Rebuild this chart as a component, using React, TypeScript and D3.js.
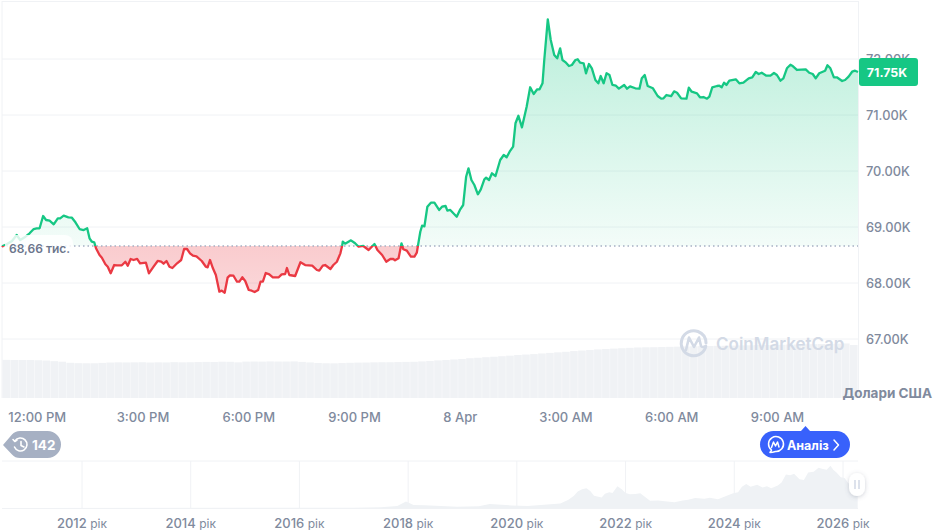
import * as d3 from 'd3';

// minutes from 12:00 PM
const minutes = [
  -60, -58, -52, -43, -35, -29, -20, -13, -6, -1, 4, 10, 15, 21, 28, 35, 39, 45, 53, 59, 65, 72, 79, 85, 89, 93, 97, 100,
  106, 110, 116, 120, 125, 131, 136, 144, 150, 154, 159, 164, 170, 175, 185, 190, 198, 205, 211, 215, 220, 225, 230, 238,
  245, 250, 255, 260, 265, 271, 280, 287, 290, 294, 299, 304, 310, 314, 319, 324, 328, 334, 340, 344, 349, 354, 360, 365,
  370, 376, 380, 384, 389, 395, 401, 411, 416, 422, 425, 429, 439, 448, 456, 468, 476, 480, 486, 490, 499, 504, 510, 516,
  519, 520, 524, 534, 541, 547, 555, 564, 574, 579, 587, 594, 601, 606, 609, 615, 620, 623, 629, 636, 642, 646, 652, 655,
  659, 664, 670, 676, 684, 689, 695, 698, 703, 714, 720, 725, 730, 734, 739, 744, 750, 755, 761, 764, 769, 774, 780, 788,
  794, 799, 804, 810, 814, 819, 825, 833, 839, 845, 851, 855, 860, 863, 869, 874, 880, 885, 890, 894, 900, 905, 910, 916,
  920, 924, 930, 934, 939, 944, 950, 955, 959, 964, 969, 974, 979, 985, 990, 999, 1004, 1009, 1018, 1025, 1029, 1034, 1039,
  1048, 1056, 1062, 1066, 1071, 1079, 1084, 1089, 1096, 1105, 1109, 1114, 1123, 1128, 1134, 1140, 1144, 1149, 1157, 1161,
  1165, 1169, 1173, 1178, 1189, 1195, 1202, 1211, 1217, 1223, 1228, 1233, 1241, 1248, 1254, 1259, 1265, 1270, 1276, 1282,
  1285, 1293, 1308, 1314, 1320, 1325, 1331, 1341, 1345, 1350, 1356, 1361, 1370, 1375, 1381, 1387, 1392, 1397
];

const prices = [
  68643, 68666, 68691, 68750, 68857, 68768, 68827, 68887, 68964, 68977, 68977, 69196, 69125, 69112, 69048, 69155, 69155, 69202, 69173, 69166, 69084, 68964, 68946, 68977, 68798, 68737, 68727, 68620,
  68500, 68452, 68334, 68291, 68173, 68321, 68316, 68316, 68380, 68309, 68429, 68411, 68429, 68352, 68362, 68173, 68291, 68393, 68380, 68345, 68393, 68291, 68268, 68352,
  68411, 68607, 68607, 68530, 68487, 68477, 68393, 68291, 68280, 68411, 68262, 68143, 67845, 67863, 67827, 68095, 68137, 68130, 68023, 68023, 68102, 68036, 67875, 67863,
  67839, 67875, 68023, 68023, 68179, 68155, 68102, 68102, 68155, 68161, 68268, 68143, 68125, 68370, 68321, 68309, 68232, 68220, 68309, 68321, 68250, 68321, 68380, 68530,
  68666, 68737, 68702, 68762, 68709, 68648, 68661, 68589, 68696, 68589, 68500, 68380, 68429, 68429, 68405, 68441, 68709, 68602, 68577, 68470, 68470, 68541, 68916, 69023,
  69012, 69362, 69434, 69434, 69304, 69362, 69375, 69291, 69304, 69184, 69316, 69393, 69898, 70048, 69839, 69750, 69584, 69673, 69852, 69880, 69839, 69959, 69911, 70196,
  70286, 70245, 70345, 70434, 70852, 70987, 70780, 71148, 71495, 71375, 71459, 71459, 71566, 71982, 72709, 72339, 72071, 72012, 72191, 71982, 71934, 71875, 71893, 71982,
  71995, 71934, 71923, 71745, 71911, 71834, 71625, 71566, 71696, 71566, 71745, 71714, 71536, 71523, 71470, 71536, 71470, 71512, 71477, 71470, 71655, 71714, 71518,
  71477, 71339, 71291, 71298, 71357, 71339, 71423, 71398, 71298, 71291, 71487, 71416, 71387, 71316, 71321, 71291, 71327, 71495, 71518, 71523,
  71495, 71577, 71536, 71613, 71637, 71566, 71577, 71655, 71673, 71768, 71732, 71755, 71702, 71702, 71750, 71714, 71613, 71655, 71834, 71898,
  71880, 71804, 71816, 71755, 71732, 71655, 71745, 71791, 71888, 71834, 71673, 71673, 71607, 71625, 71684, 71773, 71791, 71768
];

// 24h volume in billions of USD
const volumes = [
  41.6, 41.5, 41.4, 41.5, 41.2, 40.9, 40.2, 39.6, 38.4, 38.0, 37.9, 37.9, 38.3, 38.7, 38.9, 38.8, 38.9, 39.0, 38.7, 38.9, 38.8, 39.1, 38.9, 39.0,
  39.2, 39.4, 39.3, 39.6, 39.5, 38.9, 39.7, 39.8, 39.7, 39.9, 39.8, 39.8, 39.9, 39.4, 38.8, 38.2, 37.9, 37.8, 38.1, 38.4, 38.6, 38.7, 38.9, 39.0,
  39.0, 39.2, 39.4, 39.5, 39.9, 40.4, 41.0, 41.4, 42.0, 42.6, 43.4, 43.9, 44.5, 45.0, 45.6, 46.2, 46.9, 47.4, 47.9, 48.6, 49.2, 49.8, 50.4, 51.2,
  51.8, 52.4, 53.0, 53.5, 53.9, 54.3, 54.7, 55.1, 55.3, 55.4, 55.6, 55.8, 56.0, 56.2, 56.4, 56.6, 56.7, 56.9, 57.0, 57.2, 57.4, 57.5, 57.7, 57.8,
  58.0, 58.1, 58.3, 58.4, 58.6, 58.7, 58.9, 59.0, 59.3, 59.5, 57.8
];

const historyYears = [
  2010.53, 2016.5, 2017.0, 2017.5, 2017.8, 2017.96, 2018.1, 2018.3, 2018.5, 2018.9, 2019.3, 2019.5, 2019.9, 2020.2, 2020.5, 2020.8, 2020.95, 2021.05, 2021.12,
  2021.2, 2021.28, 2021.35, 2021.42, 2021.5, 2021.56, 2021.62, 2021.7, 2021.76, 2021.85, 2021.93, 2022.0, 2022.08, 2022.18, 2022.27, 2022.36, 2022.45,
  2022.6, 2022.72, 2022.9, 2023.05, 2023.15, 2023.28, 2023.45, 2023.55, 2023.7, 2023.85, 2023.98, 2024.07, 2024.14, 2024.22, 2024.3, 2024.42, 2024.52,
  2024.6, 2024.68, 2024.8, 2024.87, 2024.95, 2025.03, 2025.1, 2025.2, 2025.28, 2025.36, 2025.46, 2025.55, 2025.63, 2025.7, 2025.77, 2025.82, 2025.88,
  2025.96, 2026.03, 2026.1, 2026.18, 2026.27
];
const historyPrices = [
  0, 0.5, 1, 2.5, 6, 19, 9, 8, 6.5, 3.5, 5, 12, 7.5, 5.5, 9.5, 13, 24, 36, 48,
  55, 58, 50, 36, 33, 31, 42, 46, 44, 64, 55, 44, 40, 41, 43, 32, 21,
  22, 20, 16.5, 22, 24, 29, 27, 30, 26, 35, 43, 46, 62, 70, 62, 68, 60,
  64, 58, 66, 75, 98, 96, 100, 84, 82, 104, 106, 118, 114, 112, 124, 112, 104,
  90, 88, 72, 78, 70
];

const priceTicks = [67000, 68000, 69000, 70000, 71000, 72000];
const priceLabels = ['67.00K', '68.00K', '69.00K', '70.00K', '71.00K', '72.00K'];
const timeTicks = [0, 180, 360, 540, 720, 900, 1080, 1260];
const timeLabels = ['12:00 PM', '3:00 PM', '6:00 PM', '9:00 PM', '8 Apr', '3:00 AM', '6:00 AM', '9:00 AM'];
const yearTicks = [2012, 2014, 2016, 2018, 2020, 2022, 2024, 2026];

const openPrice = 68660;
const lastPrice = '71.75K';
const openLabel = '68,66 тис.';

const GREEN = '#16c784';
const RED = '#ea3943';
const GRID = '#f0f2f5';
const TEXT = '#808a9d';
const FONT = 'Inter, "Noto Sans", sans-serif';

const left = 2;
const right = 858;

export default function App() {
  const x = d3.scaleLinear().domain([-60, 1397]).range([left, right]);
  const y = d3.scaleLinear().domain([67000, 72000]).range([339, 59]);
  const volY = d3.scaleLinear().domain([0, 60]).range([398, 343]);
  const volX = d3.scaleBand<number>().domain(d3.range(volumes.length)).range([left, right]).padding(0.05);
  const yearX = d3.scaleLinear().domain([2012, 2026]).range([82, 843]);
  const histY = d3.scaleLinear().domain([0, 126]).range([508, 465]);

  const idx = d3.range(minutes.length);
  const line = d3.line<number>().x(i => x(minutes[i])).y(i => y(prices[i]));
  const area = d3.area<number>().x(i => x(minutes[i])).y0(y(openPrice)).y1(i => y(prices[i]));
  const histArea = d3.area<number>().x(i => yearX(historyYears[i])).y0(histY(0)).y1(i => histY(historyPrices[i]));

  const baseY = y(openPrice);

  return (
    <div style={{ position: 'absolute', left: 0, top: 0 }}>
      <svg width={936} height={530} style={{ display: 'block', fontFamily: FONT }}>
        <defs>
          <linearGradient id="up" gradientUnits="userSpaceOnUse" x1="0" x2="0" y1="19" y2={baseY}>
            <stop offset="0" stopColor={GREEN} stopOpacity={0.3} />
            <stop offset="1" stopColor={GREEN} stopOpacity={0.05} />
          </linearGradient>
          <linearGradient id="down" gradientUnits="userSpaceOnUse" x1="0" x2="0" y1={baseY} y2="295">
            <stop offset="0" stopColor={RED} stopOpacity={0.26} />
            <stop offset="1" stopColor={RED} stopOpacity={0.2} />
          </linearGradient>
          <clipPath id="above"><rect x={0} y={0} width={936} height={baseY} /></clipPath>
          <clipPath id="below"><rect x={0} y={baseY} width={936} height={200} /></clipPath>
          <filter id="handleShadow" x="-60%" y="-40%" width="220%" height="180%">
            <feDropShadow dx="0" dy="1" stdDeviation="2" floodColor="#58667e" floodOpacity="0.3" />
          </filter>
        </defs>

        {/* frame and grid */}
        <line x1={left} x2={right} y1={1.5} y2={1.5} stroke={GRID} strokeWidth={1} />
        <line x1={left} x2={left} y1={1} y2={398} stroke={GRID} strokeWidth={1} />
        <line x1={right + 0.5} x2={right + 0.5} y1={1} y2={398} stroke={GRID} strokeWidth={1} />
        {priceTicks.map(t => (
          <line key={t} x1={left} x2={right} y1={y(t)} y2={y(t)} stroke={GRID} strokeWidth={1} />
        ))}

        {/* volume */}
        {volumes.map((v, i) => (
          <rect key={i} x={volX(i)} y={volY(v)} width={volX.bandwidth()} height={398 - volY(v)} fill="#f0f2f5" />
        ))}

        {/* price */}
        <path d={area(idx) ?? ''} fill="url(#up)" clipPath="url(#above)" />
        <path d={area(idx) ?? ''} fill="url(#down)" clipPath="url(#below)" />
        <line x1={left} x2={right} y1={baseY} y2={baseY} stroke="#a6b0c3" strokeWidth={1.5} strokeDasharray="1.5 3" />
        <path d={line(idx) ?? ''} fill="none" stroke={GREEN} strokeWidth={2.3} strokeLinejoin="round" clipPath="url(#above)" />
        <path d={line(idx) ?? ''} fill="none" stroke={RED} strokeWidth={2.3} strokeLinejoin="round" clipPath="url(#below)" />

        {/* open price label */}
        <rect x={5} y={235} width={68} height={24} rx={8} fill="#fff" fillOpacity={0.82} />
        <text x={9} y={252.5} fontSize={12} fontWeight={600} fill="#6c768c">{openLabel}</text>

        {/* watermark */}
        <g fill="none" stroke="#d3dae6" strokeWidth={3} strokeLinecap="round" strokeLinejoin="round">
          <path d="M705.5 347.5 A12.5 12.5 0 1 1 698 331.5 A12.5 12.5 0 0 1 706 343" />
          <path d="M686 350 L689 337.5 L694 347 L699 337.5 L701 346 Q702 348 706 346" strokeWidth={2.6} />
        </g>
        <text x={716} y={350} fontSize={17} fontWeight={600} fill="#d3dae6">CoinMarketCap</text>

        {/* price axis */}
        {priceTicks.map((t, i) => (
          <text key={t} x={866} y={y(t) + 4.5} fontSize={12.8} fontWeight={500} fill={TEXT}>{priceLabels[i]}</text>
        ))}
        <rect x={859} y={58} width={59} height={28} rx={3} fill={GREEN} />
        <text x={887} y={76.5} fontSize={12.4} fontWeight={700} fill="#fff" textAnchor="middle">{lastPrice}</text>
        <text x={932} y={398} fontSize={13.5} fontWeight={700} fill={TEXT} textAnchor="end">Долари США</text>

        {/* time axis */}
        {timeTicks.map((t, i) => (
          <text key={t} x={x(t)} y={421.5} fontSize={13} fontWeight={500} fill={TEXT} textAnchor="middle">{timeLabels[i]}</text>
        ))}

        {/* history badge */}
        <path d="M3 445 L12 434.5 Q15 431 20 431 L47.500 431 A13.500 13.500 0 0 1 47.500 458 L20 458 Q15 458 12 454.500 Z" fill="#a6b0c3" />
        <g fill="none" stroke="#fff" strokeWidth={1.6} strokeLinecap="round" strokeLinejoin="round">
          <path d="M15 441 A6.500 6.500 0 1 1 14.500 447" />
          <path d="M13 439.500 L14.800 441.500 L17 440" />
          <path d="M21 441.500 L21 445.500 L24 447" />
        </g>
        <text x={32} y={450} fontSize={13.5} fontWeight={700} fill="#fff">142</text>

        {/* analysis button */}
        <path d="M801 431 L805.500 426 L810 431 Z" fill="#3861fb" />
        <rect x={760} y={431} width={90} height={27} rx={13.5} fill="#3861fb" />
        <g fill="none" stroke="#fff" strokeWidth={1.5} strokeLinecap="round" strokeLinejoin="round">
          <path d="M770 452.500 L771.500 450 A7.500 7.500 0 1 1 775.500 451.500 Q772.500 452.500 770 452.500 Z" />
          <path d="M771.500 447.500 L773.500 442 L775.500 446 L777.500 442 L779 447" />
          <path d="M834 440 L838.500 445 L834 450" />
        </g>
        <text x={787} y={450} fontSize={12.5} fontWeight={700} fill="#fff">Аналіз</text>

        {/* overview */}
        <line x1={left} x2={right} y1={461} y2={461} stroke={GRID} />
        {yearTicks.map(t => (
          <line key={t} x1={yearX(t)} x2={yearX(t)} y1={461} y2={508} stroke={GRID} />
        ))}
        <path d={histArea(d3.range(historyYears.length)) ?? ''} fill="#eff2f5" />
        <line x1={left} x2={right} y1={508.5} y2={508.5} stroke={GRID} />
        {yearTicks.map(t => (
          <text key={t} x={yearX(t)} y={528} fontSize={13} fontWeight={500} fill={TEXT} textAnchor="middle">
            {t} <tspan fontSize={12} fontWeight={400}>рік</tspan>
          </text>
        ))}
        <rect x={849} y={473} width={16} height={23} rx={8} fill="#fff" filter="url(#handleShadow)" />
        <line x1={855} x2={855} y1={480} y2={489} stroke="#cfd6e4" strokeWidth={1.4} />
        <line x1={859} x2={859} y1={480} y2={489} stroke="#cfd6e4" strokeWidth={1.4} />
      </svg>
    </div>
  );
}
